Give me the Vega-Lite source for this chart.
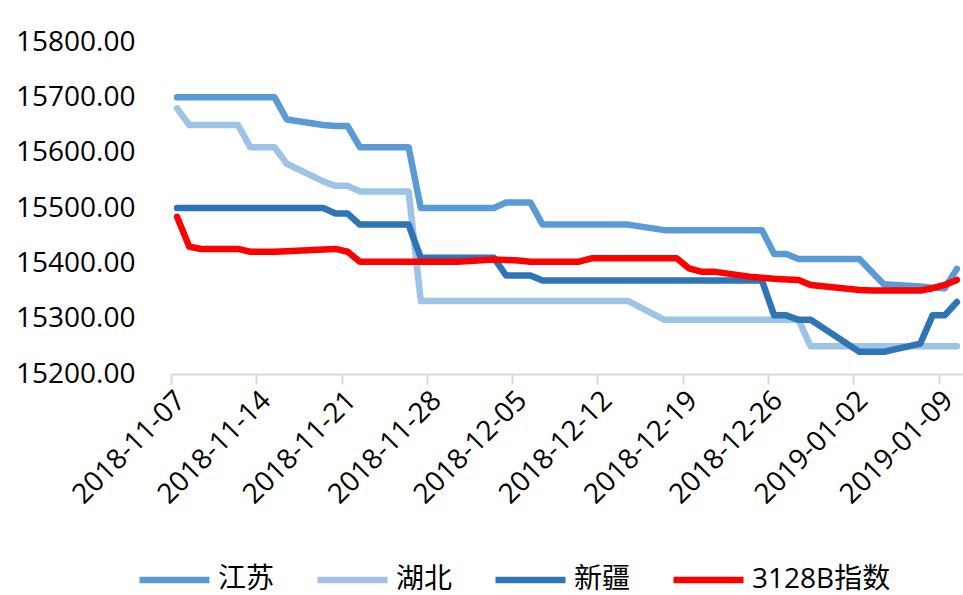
{
  "$schema": "https://vega.github.io/schema/vega-lite/v6.json",
  "autosize": {"type": "none"},
  "padding": {"left": 171, "top": 42, "right": 0, "bottom": 221},
  "width": 792,
  "height": 332,
  "background": "white",
  "config": {"view": {"stroke": null}},
  "data": {"values": [
    {"date": "2018-11-07T12:00", "江苏": 15700, "湖北": 15680, "新疆": 15500, "3128B指数": 15484},
    {"date": "2018-11-08T12:00", "江苏": 15700, "湖北": 15650, "新疆": 15500, "3128B指数": 15430},
    {"date": "2018-11-09T12:00", "江苏": 15700, "湖北": 15650, "新疆": 15500, "3128B指数": 15426},
    {"date": "2018-11-12T12:00", "江苏": 15700, "湖北": 15650, "新疆": 15500, "3128B指数": 15426},
    {"date": "2018-11-13T12:00", "江苏": 15700, "湖北": 15610, "新疆": 15500, "3128B指数": 15421},
    {"date": "2018-11-14T12:00", "江苏": 15700, "湖北": 15610, "新疆": 15500, "3128B指数": 15421},
    {"date": "2018-11-15T12:00", "江苏": 15700, "湖北": 15610, "新疆": 15500, "3128B指数": 15421},
    {"date": "2018-11-16T12:00", "江苏": 15660, "湖北": 15580, "新疆": 15500, "3128B指数": 15422},
    {"date": "2018-11-19T12:00", "江苏": 15650, "湖北": 15548, "新疆": 15500, "3128B指数": 15425},
    {"date": "2018-11-20T12:00", "江苏": 15648, "湖北": 15540, "新疆": 15490, "3128B指数": 15426},
    {"date": "2018-11-21T12:00", "江苏": 15648, "湖北": 15540, "新疆": 15490, "3128B指数": 15421},
    {"date": "2018-11-22T12:00", "江苏": 15610, "湖北": 15530, "新疆": 15470, "3128B指数": 15403},
    {"date": "2018-11-23T12:00", "江苏": 15610, "湖北": 15530, "新疆": 15470, "3128B指数": 15403},
    {"date": "2018-11-26T12:00", "江苏": 15610, "湖北": 15530, "新疆": 15470, "3128B指数": 15403},
    {"date": "2018-11-27T12:00", "江苏": 15500, "湖北": 15332, "新疆": 15410, "3128B指数": 15403},
    {"date": "2018-11-28T12:00", "江苏": 15500, "湖北": 15332, "新疆": 15410, "3128B指数": 15403},
    {"date": "2018-11-29T12:00", "江苏": 15500, "湖北": 15332, "新疆": 15410, "3128B指数": 15403},
    {"date": "2018-11-30T12:00", "江苏": 15500, "湖北": 15332, "新疆": 15410, "3128B指数": 15403},
    {"date": "2018-12-03T12:00", "江苏": 15500, "湖北": 15332, "新疆": 15410, "3128B指数": 15407},
    {"date": "2018-12-04T12:00", "江苏": 15510, "湖北": 15332, "新疆": 15378, "3128B指数": 15406},
    {"date": "2018-12-05T12:00", "江苏": 15510, "湖北": 15332, "新疆": 15378, "3128B指数": 15405},
    {"date": "2018-12-06T12:00", "江苏": 15510, "湖北": 15332, "新疆": 15378, "3128B指数": 15403},
    {"date": "2018-12-07T12:00", "江苏": 15470, "湖北": 15332, "新疆": 15369, "3128B指数": 15403},
    {"date": "2018-12-10T12:00", "江苏": 15470, "湖北": 15332, "新疆": 15369, "3128B指数": 15403},
    {"date": "2018-12-11T12:00", "江苏": 15470, "湖北": 15332, "新疆": 15369, "3128B指数": 15409},
    {"date": "2018-12-12T12:00", "江苏": 15470, "湖北": 15332, "新疆": 15369, "3128B指数": 15409},
    {"date": "2018-12-13T12:00", "江苏": 15470, "湖北": 15332, "新疆": 15369, "3128B指数": 15409},
    {"date": "2018-12-14T12:00", "江苏": 15470, "湖北": 15332, "新疆": 15369, "3128B指数": 15409},
    {"date": "2018-12-17T12:00", "江苏": 15460, "湖北": 15298, "新疆": 15369, "3128B指数": 15409},
    {"date": "2018-12-18T12:00", "江苏": 15460, "湖北": 15298, "新疆": 15369, "3128B指数": 15409},
    {"date": "2018-12-19T12:00", "江苏": 15460, "湖北": 15298, "新疆": 15369, "3128B指数": 15391},
    {"date": "2018-12-20T12:00", "江苏": 15460, "湖北": 15298, "新疆": 15369, "3128B指数": 15385},
    {"date": "2018-12-21T12:00", "江苏": 15460, "湖北": 15298, "新疆": 15369, "3128B指数": 15385},
    {"date": "2018-12-24T12:00", "江苏": 15460, "湖北": 15298, "新疆": 15369, "3128B指数": 15376},
    {"date": "2018-12-25T12:00", "江苏": 15460, "湖北": 15298, "新疆": 15369, "3128B指数": 15374},
    {"date": "2018-12-26T12:00", "江苏": 15417, "湖北": 15298, "新疆": 15306, "3128B指数": 15372},
    {"date": "2018-12-27T12:00", "江苏": 15417, "湖北": 15298, "新疆": 15306, "3128B指数": 15371},
    {"date": "2018-12-28T12:00", "江苏": 15408, "湖北": 15298, "新疆": 15298, "3128B指数": 15370},
    {"date": "2018-12-29T12:00", "江苏": 15408, "湖北": 15250, "新疆": 15298, "3128B指数": 15361},
    {"date": "2019-01-02T12:00", "江苏": 15408, "湖北": 15250, "新疆": 15240, "3128B指数": 15352},
    {"date": "2019-01-03T12:00", "江苏": 15385, "湖北": 15250, "新疆": 15240, "3128B指数": 15351},
    {"date": "2019-01-04T12:00", "江苏": 15362, "湖北": 15250, "新疆": 15240, "3128B指数": 15351},
    {"date": "2019-01-07T12:00", "江苏": 15358, "湖北": 15250, "新疆": 15255, "3128B指数": 15351},
    {"date": "2019-01-08T12:00", "江苏": 15356, "湖北": 15250, "新疆": 15306, "3128B指数": 15355},
    {"date": "2019-01-09T12:00", "江苏": 15355, "湖北": 15250, "新疆": 15306, "3128B指数": 15361},
    {"date": "2019-01-10T12:00", "江苏": 15390, "湖北": 15250, "新疆": 15330, "3128B指数": 15370}
  ]},
  "transform": [
    {"fold": ["江苏", "湖北", "新疆", "3128B指数"], "as": ["series", "value"]}
  ],
  "mark": {"type": "line", "strokeWidth": 6.5, "strokeCap": "round", "strokeJoin": "round"},
  "encoding": {
    "x": {
      "field": "date",
      "type": "temporal",
      "scale": {"domain": [{"year": 2018, "month": 11, "date": 7}, {"year": 2019, "month": 1, "date": 11}], "nice": false},
      "axis": {
        "title": null,
        "grid": false,
        "values": [
          {"year": 2018, "month": 11, "date": 7},
          {"year": 2018, "month": 11, "date": 14},
          {"year": 2018, "month": 11, "date": 21},
          {"year": 2018, "month": 11, "date": 28},
          {"year": 2018, "month": 12, "date": 5},
          {"year": 2018, "month": 12, "date": 12},
          {"year": 2018, "month": 12, "date": 19},
          {"year": 2018, "month": 12, "date": 26},
          {"year": 2019, "month": 1, "date": 2},
          {"year": 2019, "month": 1, "date": 9}
        ],
        "format": "%Y-%m-%d",
        "labelAngle": -45,
        "labelFont": "Open Sans",
        "labelFontSize": 28,
        "labelColor": "#000000",
        "labelOverlap": false,
        "labelFlush": false,
        "labelBound": false,
        "labelPadding": 2,
        "domainColor": "#D9D9D9",
        "domainWidth": 2,
        "tickColor": "#D9D9D9",
        "tickWidth": 2,
        "tickSize": 10
      }
    },
    "y": {
      "field": "value",
      "type": "quantitative",
      "scale": {"domain": [15200, 15800], "nice": false, "zero": false},
      "axis": {
        "title": null,
        "grid": false,
        "domain": false,
        "ticks": false,
        "values": [15200, 15300, 15400, 15500, 15600, 15700, 15800],
        "format": ".2f",
        "labelFont": "Open Sans",
        "labelFontSize": 28,
        "labelColor": "#000000",
        "labelPadding": 36
      }
    },
    "color": {
      "field": "series",
      "type": "nominal",
      "sort": ["江苏", "湖北", "新疆", "3128B指数"],
      "scale": {"domain": ["江苏", "湖北", "新疆", "3128B指数"], "range": ["#5B9BD5", "#9DC3E6", "#2E75B6", "#FF0000"]},
      "legend": {
        "title": null,
        "orient": "none",
        "legendX": -35,
        "legendY": 520,
        "direction": "horizontal",
        "symbolType": "stroke",
        "symbolSize": 4900,
        "symbolStrokeWidth": 6.5,
        "clipHeight": 36,
        "labelFont": "Open Sans, Noto Sans CJK SC",
        "labelFontSize": 28,
        "labelColor": "#000000",
        "labelOffset": 5,
        "columnPadding": 39,
        "labelLimit": 300
      }
    }
  }
}
